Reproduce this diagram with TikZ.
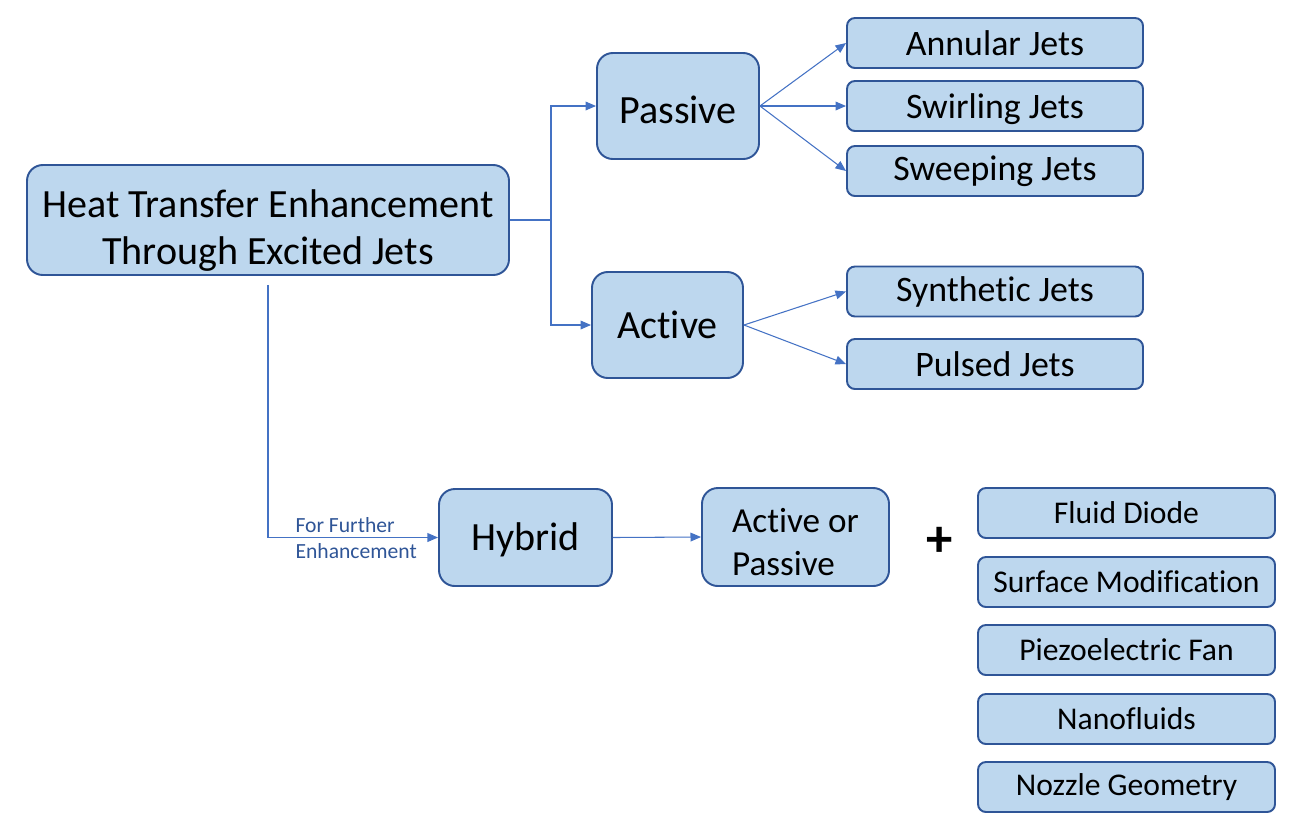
\documentclass[tikz,border=0pt]{standalone}
\usepackage{fontspec}
\setmainfont{Carlito}[Ligatures=NoCommon]
\usetikzlibrary{arrows.meta}

\definecolor{boxfill}{HTML}{BDD7EE}
\definecolor{boxline}{HTML}{2F5597}
\definecolor{linkblue}{HTML}{4472C4}

\tikzset{every picture/.style={line width=0.6pt}}
\tikzset{
  bigbox/.style={draw=boxline, fill=boxfill, line width=1.1pt, rounded corners=9pt,
    inner sep=0pt, align=center, font=\fontsize{22.8}{26.6}\selectfont},
  jetbox/.style={draw=boxline, fill=boxfill, line width=1.1pt, rounded corners=4.5pt,
    inner sep=0pt, minimum width=296*0.02cm, minimum height=50*0.02cm,
    font=\fontsize{20.4}{24}\selectfont},
  addbox/.style={jetbox, minimum width=297*0.02cm, font=\fontsize{18}{22}\selectfont},
  link/.style={draw=linkblue, -{Triangle[length=6pt,width=5pt]}},
}

\begin{document}
\begin{tikzpicture}[x=0.02cm,y=-0.02cm]
  \useasboundingbox (0,0) rectangle (1291,833);

  % main branches
  \node[bigbox, minimum width=482*0.02cm, minimum height=110*0.02cm] (heat) at (268,220)
    {\rule{0pt}{28pt}Heat Transfer Enhancement\\Through Excited Jets};
  \node[bigbox, minimum width=162*0.02cm, minimum height=106*0.02cm] (passive) at (678,106)
    {\rule{0pt}{20pt}Passive};
  \node[bigbox, minimum width=151*0.02cm, minimum height=106*0.02cm] (active) at (667.5,325) {Active};

  % jet types
  \node[jetbox] (annular) at (995,43) {Annular Jets};
  \node[jetbox] (swirling) at (995,106) {\rule{0pt}{18pt}Swirling Jets};
  \node[jetbox] (sweeping) at (995,171) {Sweeping Jets};
  \node[jetbox] (synthetic) at (995,291.5) {Synthetic Jets};
  \node[jetbox] (pulsed) at (995,364) {Pulsed Jets};

  % hybrid row
  \node[bigbox, minimum width=173*0.02cm, minimum height=97*0.02cm] (hybrid) at (525.5,537.5)
    {\rule{0pt}{19pt}Hybrid};
  \node[bigbox, minimum width=187*0.02cm, minimum height=98*0.02cm, align=left,
    font=\fontsize{20}{24.4}\selectfont] (actpas) at (795.5,537) {\rule{0pt}{19pt}Active or\\Passive};
  \node[font=\fontsize{30}{30}\selectfont\bfseries] (plus) at (940,542) {+};

  % add-ons
  \node[addbox] (diode) at (1126.5,513) {Fluid Diode};
  \node[addbox] (surface) at (1126.5,582) {Surface Modification};
  \node[addbox] (piezo) at (1126.5,650) {Piezoelectric Fan};
  \node[addbox] (nano) at (1126.5,719) {Nanofluids};
  \node[addbox] (nozzle) at (1126.5,787) {Nozzle Geometry};

  % connectors
  \coordinate (split) at (551,220);
  \draw[linkblue] (heat.east) -- (split);
  \draw[link] (split) |- (passive.west);
  \draw[link] (split) |- (active.west);

  \draw[link] (passive.east) -- (annular.west);
  \draw[link] (passive.east) -- (swirling.west);
  \draw[link] (passive.east) -- (sweeping.west);
  \draw[link] (active.east) -- (synthetic.west);
  \draw[link] (active.east) -- (pulsed.west);

  \draw[link] ([yshift=-5pt]heat.south) |- (hybrid.west);
  \node[anchor=west, align=left, text=boxline, inner sep=0pt,
    font=\fontsize{12.3}{14.7}\selectfont] (further) at (295,538) {For Further\\Enhancement};
  \draw[link] (hybrid.east) -- (actpas.west);
\end{tikzpicture}
\end{document}
